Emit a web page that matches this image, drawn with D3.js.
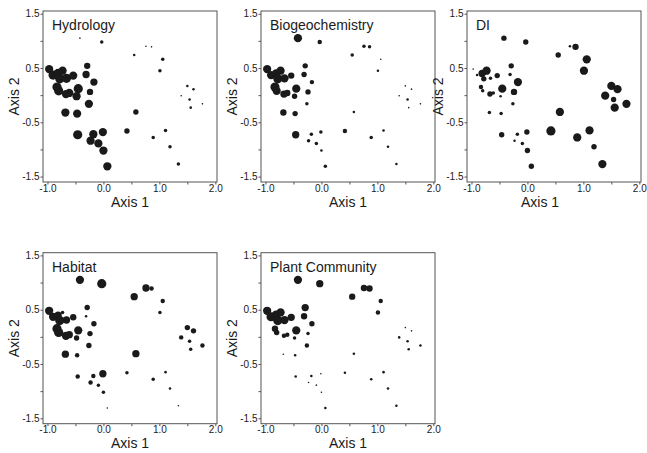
<!DOCTYPE html>
<html>
<head>
<meta charset="utf-8">
<script src="https://cdn.jsdelivr.net/npm/d3@7"></script>
<style>
  html, body { margin: 0; padding: 0; background: #fff; }
  svg { display: block; }
  text { font-family: "Liberation Sans", Arial, Helvetica, sans-serif; fill: #1a1a1a; }
</style>
</head>
<body>
<svg id="chart" width="647" height="453"></svg>
<script>
// Ordination scores of the sites (shared by every panel)
const axis1 = [-0.42, -0.03, 0.55, 0.76, 0.86, 1.06, 1.01, -0.97, -0.90, -0.81,
               -0.73, -0.78, -0.66, -0.54, -0.29, -0.31, -0.17, -0.83, -0.80, -0.67,
               -0.61, -0.45, -0.48, -0.24, -0.26, -0.68, -0.47, 0.58, -0.46, -0.18,
               -0.01, -0.23, -0.09, 0.00, 0.07, 0.42, 0.89, 1.11, 1.19, 1.34,
               1.50, 1.61, 1.39, 1.54, 1.56, 1.77];
const axis2 = [1.05, 0.98, 0.74, 0.90, 0.89, 0.66, 0.45, 0.48, 0.37, 0.40,
               0.45, 0.30, 0.31, 0.36, 0.54, 0.38, 0.24, 0.15, 0.08, 0.02,
               0.04, 0.12, -0.02, 0.06, -0.16, -0.32, -0.34, -0.31, -0.73, -0.72,
               -0.68, -0.84, -0.89, -1.02, -1.31, -0.66, -0.78, -0.65, -0.95, -1.27,
               0.17, 0.11, -0.01, -0.08, -0.23, -0.16];

// Score class (1 = lowest, 5 = highest) of each site for each function
const hydrology = [1, 2, 1.5, 1, 1, 2, 2, 4.5, 5, 5,
                   4.5, 5, 5, 4.5, 3.5, 4, 4, 5, 5, 4.5,
                   4.5, 5, 4.5, 3.5, 4.5, 4.5, 4.5, 3, 5, 4.5,
                   4.5, 4.5, 4.5, 4.5, 4.5, 3, 2, 2, 2, 2,
                   1.5, 1.5, 1, 1.5, 1.5, 1];
const biogeochemistry = [4.5, 2.5, 2, 2, 2, 1, 1.5, 4.5, 4.5, 4.5,
                         4.5, 5, 4.5, 3.5, 3, 3, 2.5, 5, 4.5, 4,
                         3.5, 4.5, 3, 3, 2, 3.5, 3, 1.5, 4, 2,
                         2, 2, 2, 1.5, 2, 2.5, 2, 1.5, 1.5, 1.5,
                         1, 1, 1, 1.5, 1, 1];
const di = [3, 3, 3, 1.5, 3.5, 4.5, 4.5, 1, 1.5, 4,
            4.5, 3, 2, 3, 3, 2, 4.5, 2.5, 2, 3,
            2, 4.5, 1.5, 3.5, 2, 2, 2, 4.5, 3, 2,
            3, 1.5, 2, 3, 3, 5, 4.5, 4.5, 3, 4.5,
            4.5, 4.5, 4.5, 3, 4.5, 4.5];
const habitat = [4.5, 5, 4, 4, 2.5, 2.5, 2, 4.5, 4.5, 4,
                 2, 5, 4, 3.5, 3, 1.5, 3, 5, 5, 4.5,
                 4, 4.5, 3, 3, 3, 4, 2.5, 4, 2.5, 2.5,
                 4, 2.5, 2, 2, 1, 2, 2, 1.5, 1.5, 1,
                 3, 3, 2.5, 2, 2, 2.5];
const plantCommunity = [4.5, 4, 3.5, 3.5, 3.5, 2.5, 2.5, 4.5, 5, 5,
                        4.5, 5, 4.5, 4, 4, 3.5, 3, 3.5, 3, 2.5,
                        2.5, 4.5, 2, 2, 2.5, 1, 1.5, 1.5, 1.5, 1.5,
                        1, 1, 1, 1, 1.5, 1.5, 1.5, 1.5, 1.5, 1.5,
                        1, 1, 1.5, 1.5, 1.5, 1.5];

const panelTitles = ["Hydrology", "Biogeochemistry", "DI", "Habitat", "Plant Community"];
const panelScores = [hydrology, biogeochemistry, di, habitat, plantCommunity];

const xTicks = [-1.0, -0.5, 0.0, 0.5, 1.0, 1.5, 2.0];
const xTickLabels = [-1.0, 0.0, 1.0, 2.0];
const yTicks = [-1.5, -1.0, -0.5, 0.0, 0.5, 1.0, 1.5];
const yTickLabels = [-1.5, -0.5, 0.5, 1.5];

// Panel placement
const panelW = 174, panelH = 171;
const lefts = [43, 261, 467, 43, 261];
const tops = [11, 11, 11, 252.7, 252.7];
const xTitleShift = [0, 0, -14, 0, 0];

const svg = d3.select("#chart");

const x = d3.scaleLinear().domain([-1.08, 2.03]).range([0, panelW]);
const y = d3.scaleLinear().domain([-1.6, 1.55]).range([panelH, 0]);
const r = d3.scaleLinear().domain([1, 5]).range([0.8, 4.6]);

const fmt = d => d.toFixed(1);
const labelled = (list) => d => list.some(v => Math.abs(v - d) < 1e-9) ? fmt(d) : "";

panelTitles.forEach((title, i) => {
  const g = svg.append("g").attr("transform", `translate(${lefts[i]},${tops[i]})`);

  // x axis
  const gx = g.append("g")
    .attr("transform", `translate(0,${panelH})`)
    .call(d3.axisBottom(x).tickValues(xTicks).tickFormat(labelled(xTickLabels))
      .tickSize(2.5).tickPadding(0));
  // y axis
  const gy = g.append("g")
    .call(d3.axisLeft(y).tickValues(yTicks).tickFormat(labelled(yTickLabels))
      .tickSize(2.5).tickPadding(1));

  [gx, gy].forEach(a => {
    a.select(".domain").remove();
    a.selectAll(".tick line").attr("stroke", "#555");
    a.selectAll(".tick text")
      .attr("font-family", "Liberation Sans, Arial, sans-serif")
      .attr("font-size", 10).attr("fill", "#1a1a1a");
  });

  // frame
  g.append("rect")
    .attr("x", 0).attr("y", 0).attr("width", panelW).attr("height", panelH)
    .attr("fill", "none").attr("stroke", "#555").attr("stroke-width", 1);

  // title
  g.append("text")
    .attr("x", 9).attr("y", 19)
    .attr("font-size", 14)
    .text(title);

  // axis titles
  g.append("text")
    .attr("x", panelW / 2 + xTitleShift[i]).attr("y", panelH + 24.5)
    .attr("text-anchor", "middle").attr("font-size", 14)
    .text("Axis 1");
  g.append("text")
    .attr("transform", `translate(-24,${panelH / 2}) rotate(-90)`)
    .attr("text-anchor", "middle").attr("font-size", 14)
    .text("Axis 2");

  // sites, sized by score class
  const scores = panelScores[i];
  g.append("g").selectAll("circle")
    .data(axis1.map((a, k) => ({ a1: a, a2: axis2[k], s: scores[k] })))
    .join("circle")
    .attr("cx", d => x(d.a1))
    .attr("cy", d => y(d.a2))
    .attr("r", d => r(d.s))
    .attr("fill", "#1a1a1a");
});
</script>
</body>
</html>
